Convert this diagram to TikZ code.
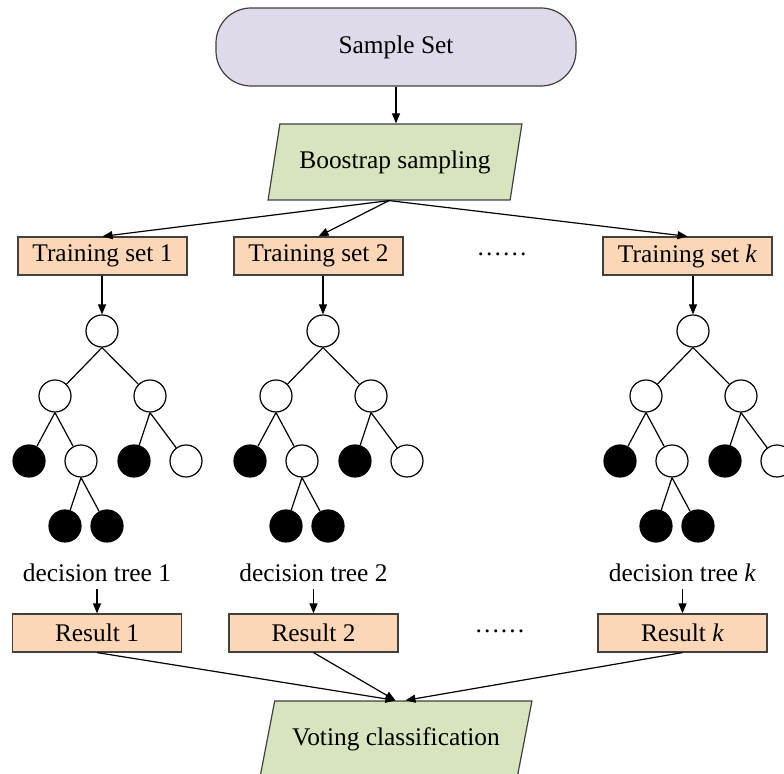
\documentclass[tikz,border=0pt]{standalone}
\usepackage{fontspec}
\setmainfont{Liberation Serif}
\usetikzlibrary{shapes.geometric,arrows.meta}
\definecolor{setpurple}{RGB}{224,217,233}
\definecolor{paragreen}{RGB}{215,228,189}
\definecolor{boxpeach}{RGB}{251,214,183}
\newcommand{\idx}[1]{\if k#1\textit{k}\else#1\fi}
\begin{document}
\begin{tikzpicture}[x=0.5pt,y=-0.5pt,line width=0.6pt,
    font=\fontsize{12.7}{15}\selectfont,
    arr/.style={-{Triangle[length=5pt,width=4pt]}},
    startbox/.style={draw=black!75,fill=setpurple,rounded corners=17.5pt,
      minimum width=180pt,minimum height=39pt},
    para/.style={draw=black!75,fill=paragreen,trapezium,trapezium stretches=true,
      trapezium left angle=74,trapezium right angle=106,minimum height=38pt},
    setbox/.style={draw=black!75,fill=boxpeach,minimum width=84.5pt,
      minimum height=19pt,inner sep=0pt},
    split/.style={circle,draw,fill=white,minimum size=16pt,inner sep=0pt},
    leaf/.style={split,fill=black}]
    \useasboundingbox (0,0) rectangle (784,774);
    \node[startbox] (sample) at (396,47) {Sample Set};
    \node[para,minimum width=127pt] (boot) at (395,162) {Boostrap sampling};
    \draw[arr] (sample.south) -- (sample.south |- boot.north);
    \node (dotsa) at (502,254) {……};
    \node (dotsb) at (500,631) {……};
    \foreach \t/\sx/\rx/\dx in {1/102.5/102/97, 2/318.5/323/313.5, k/687.5/693/682.5}{
      \node[setbox] (ts\t) at (\sx,256) {Training set \idx{\t}};
      \draw[arr] (boot.bottom side) -- (ts\t.north);
      \node[split] (r\t) at (\rx,331) {};
      \node[split] (a\t) at (\rx-47,396) {};
      \node[split] (b\t) at (\rx+48,396) {};
      \node[leaf]  (c\t) at (\rx-73,461) {};
      \node[split] (d\t) at (\rx-21,461) {};
      \node[leaf]  (e\t) at (\rx+32,461) {};
      \node[split] (f\t) at (\rx+84,461) {};
      \node[leaf]  (g\t) at (\rx-37,526) {};
      \node[leaf]  (h\t) at (\rx+5,526) {};
      \draw[arr] (ts\t.south -| r\t) -- (r\t);
      \draw (r\t.south) -- (a\t) (r\t.south) -- (b\t);
      \draw (a\t.south) -- (c\t) (a\t.south) -- (d\t);
      \draw (b\t.south) -- (e\t) (b\t.south) -- (f\t);
      \draw (d\t.south) -- (g\t) (d\t.south) -- (h\t);
      \node (dt\t) at (\dx,573) {decision tree \idx{\t}};
      \node[setbox] (res\t) at (\dx,633) {Result \idx{\t}};
      \draw[arr] (dt\t.south) -- (res\t.north);
    }
    \node[para,minimum width=136pt,trapezium left angle=70,trapezium right angle=110]
      (vote) at (396,739) {Voting classification};
    \draw[arr] (res1.south) -- ([xshift=-4pt]vote.top side);
    \draw[arr] (res2.south) -- ([xshift=-4pt]vote.top side);
    \draw[arr] (resk.south) -- ([xshift=1pt]vote.top side);
\end{tikzpicture}
\end{document}
